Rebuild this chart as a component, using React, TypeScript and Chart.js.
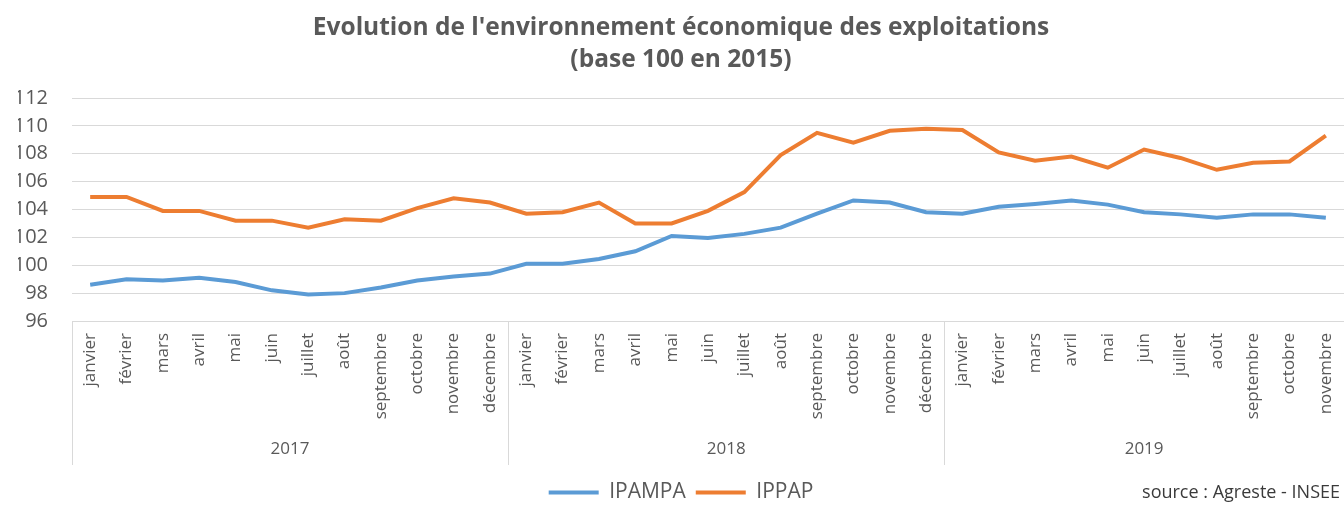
import React, { useEffect, useRef } from "react";
import { Chart, registerables } from "chart.js";

Chart.register(...registerables);

const MONTHS = [
  "janvier", "février", "mars", "avril", "mai", "juin",
  "juillet", "août", "septembre", "octobre", "novembre", "décembre",
];
const YEARS = ["2017", "2018", "2019"];
const MONTH_COUNT = 35; // janvier 2017 -> novembre 2019

const IPAMPA = [
  98.6, 99.0, 98.9, 99.1, 98.8, 98.2, 97.9, 98.0, 98.4, 98.9, 99.2, 99.4,
  100.1, 100.1, 100.45, 101.0, 102.1, 101.95, 102.25, 102.7, 103.7, 104.65, 104.5, 103.8,
  103.7, 104.2, 104.4, 104.65, 104.35, 103.8, 103.65, 103.4, 103.65, 103.65, 103.4,
];
const IPPAP = [
  104.9, 104.9, 103.9, 103.9, 103.2, 103.2, 102.7, 103.3, 103.2, 104.1, 104.8, 104.5,
  103.7, 103.8, 104.5, 103.0, 103.0, 103.9, 105.25, 107.9, 109.5, 108.8, 109.65, 109.8,
  109.7, 108.1, 107.5, 107.8, 107.0, 108.3, 107.7, 106.85, 107.35, 107.45, 109.3,
];

const Y_MIN = 96;
const Y_MAX = 112;
const Y_STEP = 2;

const TITLE = [
  "Evolution de l'environnement économique des exploitations",
  "(base 100 en 2015)",
];
const SOURCE = "source : Agreste - INSEE";

const SERIES_NAMES = ["IPAMPA", "IPPAP"];
const COLORS = ["#5b9bd5", "#ed7d31"];

const CATEGORIES: string[] = [];
for (let i = 0; i < MONTH_COUNT; i++) CATEGORIES.push(MONTHS[i % 12]);

const FONT = "'Open Sans', 'Noto Sans', sans-serif";
const TEXT_GREY = "#595959";
const GRID = "#d9d9d9";

const yearGroupsPlugin = {
  id: "yearGroups",
  afterDraw(chart: any) {
    const x = chart.scales.x;
    const ctx = chart.ctx;
    const band = x.getPixelForValue(1) - x.getPixelForValue(0);
    const top = chart.chartArea.bottom;
    const sepBottom = 465;
    ctx.save();
    ctx.strokeStyle = GRID;
    ctx.lineWidth = 1;
    ctx.fillStyle = TEXT_GREY;
    ctx.font = `17px ${FONT}`;
    ctx.textAlign = "center";
    ctx.textBaseline = "middle";
    YEARS.forEach((year, k) => {
      const start = k * 12;
      const end = Math.min(start + 11, MONTH_COUNT - 1);
      if (start > MONTH_COUNT - 1) return;
      const left = x.getPixelForValue(start) - band / 2;
      const right = x.getPixelForValue(end) + band / 2;
      const lx = Math.round(left) + 0.5;
      ctx.beginPath();
      ctx.moveTo(lx, top);
      ctx.lineTo(lx, sepBottom);
      ctx.stroke();
      ctx.fillText(year, (left + right) / 2, 449);
    });
    ctx.restore();
  },
};

const sourcePlugin = {
  id: "sourceNote",
  afterDraw(chart: any) {
    const ctx = chart.ctx;
    ctx.save();
    ctx.fillStyle = "#3a3a3a";
    ctx.font = `18px ${FONT}`;
    ctx.textAlign = "right";
    ctx.textBaseline = "middle";
    ctx.fillText(SOURCE, chart.width - 4, 493);
    ctx.restore();
  },
};

export default function App() {
  const canvasRef = useRef<HTMLCanvasElement | null>(null);

  useEffect(() => {
    if (!canvasRef.current) return;
    const chart = new Chart(canvasRef.current, {
      type: "line",
      data: {
        labels: CATEGORIES,
        datasets: [
          {
            label: SERIES_NAMES[0],
            data: IPAMPA,
            borderColor: COLORS[0],
            backgroundColor: COLORS[0],
            borderWidth: 4,
            pointRadius: 0,
            tension: 0,
          },
          {
            label: SERIES_NAMES[1],
            data: IPPAP,
            borderColor: COLORS[1],
            backgroundColor: COLORS[1],
            borderWidth: 4,
            pointRadius: 0,
            tension: 0,
          },
        ],
      },
      options: {
        responsive: false,
        animation: false,
        layout: { padding: { left: 18, right: 0, top: 0, bottom: -7 } },
        plugins: {
          title: {
            display: true,
            text: TITLE,
            color: TEXT_GREY,
            font: { family: FONT, size: 24.5, weight: "bold", lineHeight: 32 / 24.5 },
            padding: { top: 12, bottom: 22 },
          },
          legend: {
            position: "bottom",
            labels: {
              usePointStyle: true,
              pointStyle: "line",
              pointStyleWidth: 50,
              color: TEXT_GREY,
              font: { family: FONT, size: 21 },
              padding: 10,
            },
          },
          tooltip: { enabled: false },
        },
        scales: {
          x: {
            type: "category",
            offset: true,
            grid: { display: false, drawTicks: false },
            border: { display: false },
            ticks: {
              autoSkip: false,
              maxRotation: 90,
              minRotation: 90,
              padding: 12,
              color: TEXT_GREY,
              font: { family: FONT, size: 17 },
            },
            afterFit: (s: any) => {
              s.height = 151;
              s.paddingLeft = 0;
              s.paddingRight = 0;
            },
          },
          y: {
            min: Y_MIN,
            max: Y_MAX,
            ticks: {
              stepSize: Y_STEP,
              padding: 24,
              color: TEXT_GREY,
              font: { family: FONT, size: 20 },
            },
            grid: { color: GRID, lineWidth: 1, drawTicks: false },
            border: { display: false },
            afterFit: (s: any) => {
              s.width = 54;
            },
          },
        },
      },
      plugins: [yearGroupsPlugin, sourcePlugin],
    } as any);
    return () => chart.destroy();
  }, []);

  return (
    <div style={{ position: "absolute", left: 0, top: 0, width: 1344, height: 506, background: "#fff" }}>
      <canvas ref={canvasRef} width={1344} height={506} style={{ display: "block" }} />
    </div>
  );
}
